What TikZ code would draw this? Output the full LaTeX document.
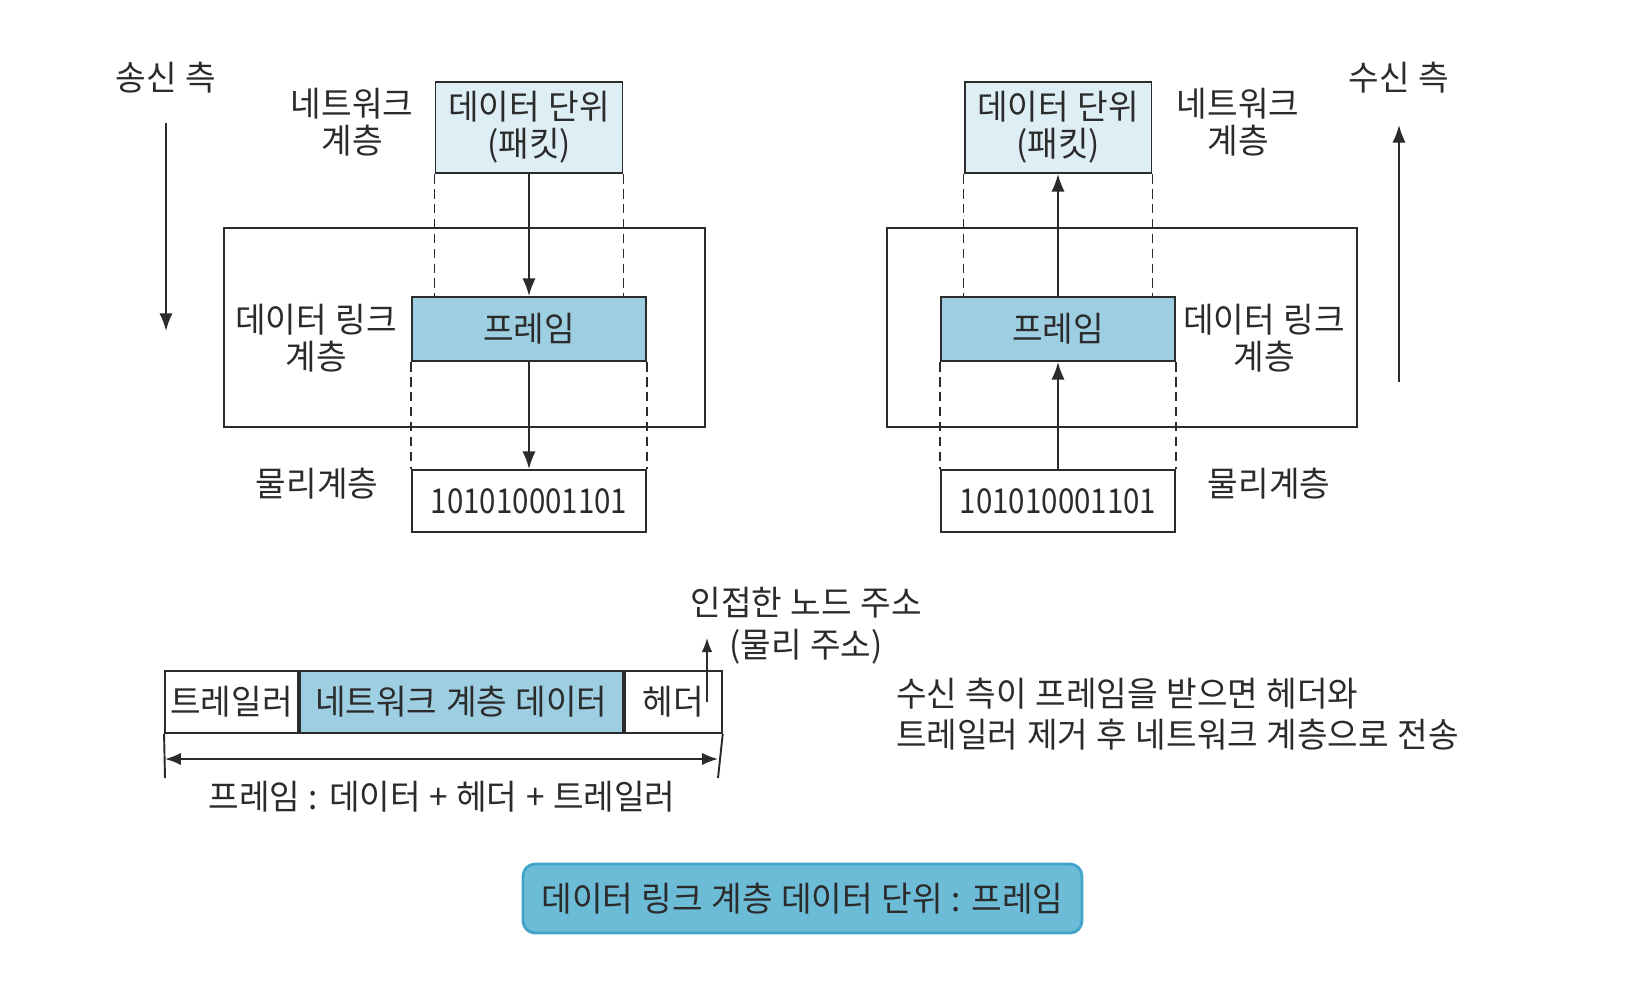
\documentclass[tikz,border=0pt]{standalone}
\usepackage{fontspec}
\setmainfont{Noto Sans CJK KR}[WordSpace=1.15,FakeStretch=0.97]
\newfontfamily\bitfont{Noto Sans CJK KR}[FakeStretch=0.86]
\usetikzlibrary{arrows.meta,positioning,calc}
\definecolor{InkClr}{HTML}{2B2B2B}
\definecolor{PacketClr}{HTML}{DDEEF5}
\definecolor{FrameClr}{HTML}{9DCEE1}
\definecolor{BannerClr}{HTML}{6CBCD7}
\definecolor{BannerLine}{HTML}{3FA5CB}

\begin{document}
\begin{tikzpicture}[x=0.02cm,y=-0.02cm,
  every node/.style={font=\fontsize{19.5}{21}\selectfont,text=InkClr,align=center},
  layerbox/.style={draw=InkClr,line width=1.1pt,inner sep=0pt,minimum height=3.98cm},
  pktbox/.style={draw=InkClr,line width=1.1pt,fill=PacketClr,inner sep=0pt,minimum width=3.74cm,minimum height=1.82cm},
  frmbox/.style={draw=InkClr,line width=1.1pt,fill=FrameClr,inner sep=0pt,minimum width=4.68cm,minimum height=1.28cm},
  bitbox/.style={draw=InkClr,line width=1.1pt,fill=white,inner sep=0pt,minimum width=4.68cm,minimum height=1.24cm,font=\bitfont\fontsize{19.5}{21}\selectfont},
  cell/.style={draw=InkClr,line width=1.1pt,inner sep=0pt,minimum height=1.24cm},
  guide/.style={draw=InkClr,line width=1pt,dash pattern=on 5.5pt off 3pt},
  flow/.style={draw=InkClr,line width=1.1pt,-{Latex[length=10pt,width=7.5pt]}},
  banner/.style={draw=BannerLine,line width=1.6pt,fill=BannerClr,rounded corners=0.24cm,minimum width=11.18cm,minimum height=1.38cm}
]
\useasboundingbox (0,0) rectangle (1631,1000);

% sending side
\node (sendLbl) at (166,78) {송신 측};
\coordinate (sendTop) at (166,123);
\coordinate (sendBot) at (166,331);
\draw[flow] (sendTop) -- (sendBot);

\node[layerbox,minimum width=9.62cm] (dlL) at (464.5,327.5) {};
\node[pktbox] (pkL) at (529,127.5) {데이터 단위\\(패킷)};
\node[frmbox] (frL) at (529,329) {프레임};
\node[bitbox] (bitL) at (529,501) {101010001101};

\draw[guide] (pkL.south west) -- (pkL.south west |- frL.north);
\draw[guide] (pkL.south east) -- (pkL.south east |- frL.north);
\draw[guide] (frL.south west) -- (bitL.north west);
\draw[guide] (frL.south east) -- (bitL.north east);
\draw[flow] (pkL) -- (frL);
\draw[flow] (frL) -- (bitL);

\node (netL) at (352,122) {네트워크\\계층};
\node (linkL) at (316,338) {데이터 링크\\계층};
\node (phyL) at (317,484) {물리계층};

% receiving side
\node (recvLbl) at (1399,78) {수신 측};
\coordinate (recvBot) at (1399,382);
\coordinate (recvTop) at (1399,125);
\draw[flow] (recvBot) -- (recvTop);

\node[layerbox,minimum width=9.4cm] (dlR) at (1122,327.5) {};
\node[pktbox] (pkR) at (1058,127.5) {데이터 단위\\(패킷)};
\node[frmbox] (frR) at (1058,329) {프레임};
\node[bitbox] (bitR) at (1058,501) {101010001101};

\draw[guide] (pkR.south west) -- (pkR.south west |- frR.north);
\draw[guide] (pkR.south east) -- (pkR.south east |- frR.north);
\draw[guide] (frR.south west) -- (bitR.north west);
\draw[guide] (frR.south east) -- (bitR.north east);
\draw[flow] (bitR) -- (frR);
\draw[flow] (frR) -- (pkR);

\node (netR) at (1238,122) {네트워크\\계층};
\node (linkR) at (1264,338) {데이터 링크\\계층};
\node (phyR) at (1269,484) {물리계층};

% frame layout
\node[cell,minimum width=2.66cm] (trl) at (231.5,702) {트레일러};
\node[cell,fill=FrameClr,minimum width=6.46cm,right=0pt of trl] (nld) {네트워크 계층 데이터};
\node[cell,minimum width=1.94cm,right=0pt of nld] (hdr) {헤더};

\coordinate (adrFoot) at (707,702);
\coordinate (adrHead) at (707,638);
\draw[draw=InkClr,line width=0.8pt,-{Latex[length=8pt,width=6pt]}] (adrFoot) -- (adrHead);
\node (adr1) at (806,603) {인접한 노드 주소};
\node (adr2) at (806,647) {(물리 주소)};

\coordinate (tickL) at (165,778);
\coordinate (tickR) at (718,778);
\draw[draw=InkClr,line width=1.1pt] (trl.south west) -- (tickL);
\draw[draw=InkClr,line width=1.1pt] (hdr.south east) -- (tickR);
\coordinate (dimL) at (165,759);
\coordinate (dimR) at (718,759);
\draw[draw=InkClr,line width=1.1pt,{Latex[length=9pt,width=7pt]}-{Latex[length=9pt,width=7pt]}] (dimL) -- (dimR);
\node (frmSum) at (442,797) {프레임 : 데이터 + 헤더 + 트레일러};

\node[anchor=west,align=left,font=\fontsize{19.5}{23.3}\selectfont] (note) at (890,714) {수신 측이 프레임을 받으면 헤더와\\트레일러 제거 후 네트워크 계층으로 전송};

\node[banner] (unit) at (802.5,898.5) {데이터 링크 계층 데이터 단위 : 프레임};
\end{tikzpicture}
\end{document}
